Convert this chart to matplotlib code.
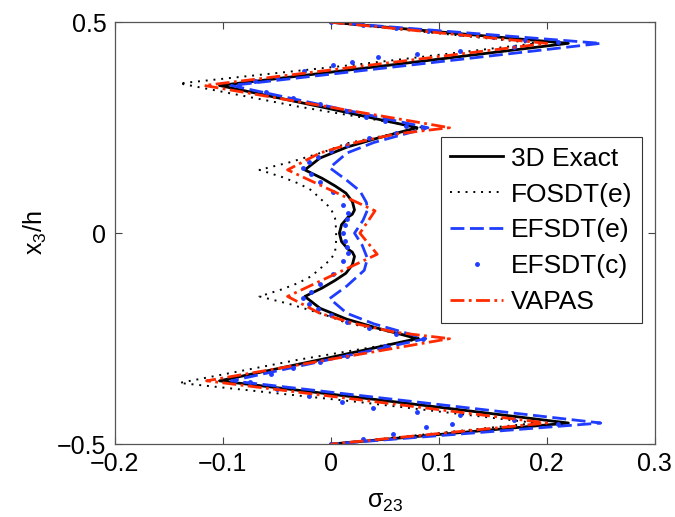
import numpy as np
import matplotlib
matplotlib.use('Agg')
import matplotlib.pyplot as plt

plt.rcParams['font.family'] = ['Liberation Sans', 'DejaVu Sans']
plt.rcParams['mathtext.fontset'] = 'custom'
plt.rcParams['mathtext.rm'] = 'Liberation Sans'
plt.rcParams['mathtext.default'] = 'regular'

# Transverse shear stress sigma_23 through the thickness x3/h
y_exact = [0.5, 0.45, 0.40, 0.35, 0.30, 0.25, 0.225, 0.204, 0.178, 0.15, 0.13, 0.112, 0.095, 0.075, 0.055, 0.045, 0.038, 0.02, 0.0,
           -0.02, -0.038, -0.045, -0.055, -0.075, -0.095, -0.112, -0.13, -0.15, -0.178, -0.204, -0.225, -0.25, -0.30, -0.35, -0.40, -0.45, -0.5]
x_exact = [0.0, 0.22, 0.06, -0.103, -0.01, 0.08, 0.043, 0.015, -0.010, -0.024, -0.008, 0.004, 0.014, 0.020, 0.022, 0.020, 0.016, 0.010, 0.008,
           0.010, 0.016, 0.020, 0.022, 0.020, 0.014, 0.004, -0.008, -0.024, -0.010, 0.015, 0.043, 0.08, -0.01, -0.103, 0.06, 0.22, 0.0]

y_fosdt = [0.5, 0.45, 0.40, 0.355, 0.30, 0.25, 0.213, 0.192, 0.168, 0.15, 0.133, 0.118, 0.102, 0.078, 0.059, 0.035, 0.007,
           -0.017, -0.045, -0.062, -0.08, -0.102, -0.118, -0.133, -0.15, -0.168, -0.192, -0.213, -0.25, -0.30, -0.355, -0.40, -0.45, -0.5]
x_fosdt = [0.0, 0.19, 0.025, -0.14, -0.03, 0.085, 0.015, -0.007, -0.038, -0.066, -0.045, -0.030, -0.018, -0.008, 0.0, 0.004, 0.005,
           0.005, 0.004, 0.0, -0.008, -0.018, -0.030, -0.045, -0.066, -0.038, -0.007, 0.015, 0.085, -0.03, -0.14, 0.025, 0.19, 0.0]

y_efsdt_e = [0.5, 0.45, 0.35, 0.25, 0.215, 0.19, 0.155, 0.125, 0.10, 0.073, 0.055, 0.031, 0.0,
             -0.028, -0.06, -0.088, -0.125, -0.155, -0.19, -0.215, -0.25, -0.35, -0.45, -0.5]
x_efsdt_e = [0.0, 0.25, -0.092, 0.09, 0.04, 0.015, -0.001, 0.015, 0.027, 0.033, 0.034, 0.030, 0.022,
             0.029, 0.034, 0.031, 0.015, -0.001, 0.015, 0.04, 0.088, -0.092, 0.25, 0.0]

x_efsdt_c = [0.0, 0.03, 0.06, 0.09, 0.12, 0.15, 0.18, 0.21,
             0.17, 0.12, 0.08, 0.044, 0.02, 0.002, -0.025, -0.05, -0.07, -0.085,
             -0.06, -0.035, -0.01, 0.015, 0.033, 0.05, 0.07, 0.085,
             0.06, 0.035, 0.015, 0.0, -0.012, -0.02, -0.026,
             -0.018, -0.01, 0.002, 0.011, 0.016, 0.015, 0.013, 0.011, 0.013, 0.015, 0.016, 0.011, 0.002, -0.01, -0.018,
             -0.026, -0.02, -0.012, 0.0, 0.015, 0.035, 0.06, 0.085,
             0.05, 0.015, -0.01, -0.035, -0.055, -0.075,
             -0.05, -0.02, 0.01, 0.039, 0.08, 0.12, 0.17, 0.21,
             0.112, 0.088, 0.058, 0.03, 0.0]
y_efsdt_c = [0.5, 0.493, 0.486, 0.479, 0.473, 0.466, 0.459, 0.452,
             0.442, 0.432, 0.425, 0.418, 0.405, 0.398, 0.385, 0.37, 0.36, 0.352,
             0.335, 0.32, 0.305, 0.29, 0.275, 0.265, 0.255, 0.25,
             0.238, 0.225, 0.21, 0.195, 0.18, 0.168, 0.154,
             0.14, 0.121, 0.097, 0.066, 0.047, 0.033, 0.019, 0.0, -0.019, -0.033, -0.047, -0.066, -0.097, -0.121, -0.14,
             -0.154, -0.168, -0.18, -0.195, -0.21, -0.225, -0.238, -0.25,
             -0.268, -0.29, -0.305, -0.32, -0.335, -0.352,
             -0.37, -0.385, -0.40, -0.415, -0.425, -0.432, -0.442, -0.452,
             -0.453, -0.46, -0.476, -0.489, -0.5]

y_vapas = [0.5, 0.45, 0.35, 0.25, 0.235, 0.213, 0.19, 0.15, 0.053, 0.0, -0.05, -0.15, -0.19, -0.213, -0.235, -0.25, -0.35, -0.45, -0.5]
x_vapas = [0.0, 0.20, -0.117, 0.11, 0.06, 0.02, -0.01, -0.04, 0.041, 0.027, 0.043, -0.04, -0.01, 0.02, 0.06, 0.11, -0.115, 0.20, 0.0]

blue = '#1f3cff'
red = '#ff2a00'

fig = plt.figure(figsize=(6.75, 5.17), dpi=100)
ax = fig.add_axes([0.170, 0.141, 0.800, 0.816])

ax.plot(x_exact, y_exact, color='black', lw=2, label='3D Exact')
ax.plot(x_fosdt, y_fosdt, color='black', lw=1.4, linestyle=(0, (1, 3)), label='FOSDT(e)')
ax.plot(x_efsdt_e, y_efsdt_e, color=blue, lw=2, linestyle=(0, (5, 2)), label='EFSDT(e)')
ax.plot(x_efsdt_c, y_efsdt_c, color=blue, linestyle='none', marker='.', markersize=5, label='EFSDT(c)')
ax.plot(x_vapas, y_vapas, color=red, lw=2, linestyle=(0, (5, 1.6, 1, 1.6)), label='VAPAS')

ax.set_xlim(-0.2, 0.3)
ax.set_ylim(-0.5, 0.5)
ax.set_xticks([-0.2, -0.1, 0, 0.1, 0.2, 0.3])
ax.set_xticklabels(['\u22120.2', '\u22120.1', '0', '0.1', '0.2', '0.3'])
ax.set_yticks([-0.5, 0, 0.5])
ax.set_yticklabels(['\u22120.5', '0', '0.5'])
ax.tick_params(direction='in', top=True, right=True, length=5, width=0.8,
               color='#444444', labelsize=18, pad=6)
for s in ax.spines.values():
    s.set_color('#555555')
    s.set_linewidth(0.9)

ax.set_xlabel('σ$_{23}$', fontsize=18, labelpad=10)
ax.set_ylabel('x$_3$/h', fontsize=18, labelpad=6)

leg = ax.legend(loc='upper left', bbox_to_anchor=(0.604, 0.727), borderaxespad=0,
                fontsize=19, frameon=True, fancybox=False, edgecolor='black',
                handlelength=2.0, handletextpad=0.3, labelspacing=0.45, borderpad=0.35)
leg.get_frame().set_linewidth(0.8)

fig.savefig('out.png', dpi=100)
